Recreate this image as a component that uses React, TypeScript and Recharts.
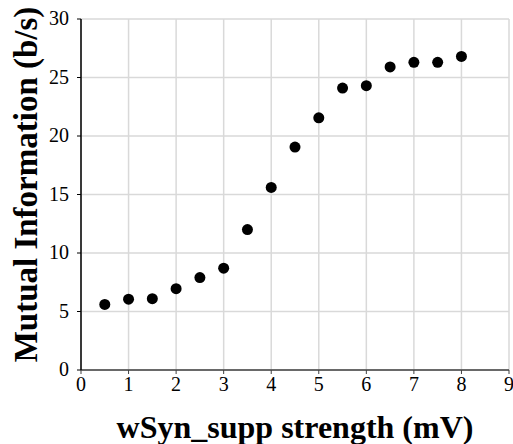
import React from "react";
import { ScatterChart, Scatter, XAxis, YAxis, CartesianGrid, Label } from "recharts";

const strengths = [0.5, 1, 1.5, 2, 2.5, 3, 3.5, 4, 4.5, 5, 5.5, 6, 6.5, 7, 7.5, 8];
const mutualInfo = [5.6, 6.05, 6.1, 6.95, 7.9, 8.7, 12.0, 15.6, 19.05, 21.55, 24.1, 24.3, 25.9, 26.3, 26.3, 26.8];
const xTicks = [0, 1, 2, 3, 4, 5, 6, 7, 8, 9];
const yTicks = [0, 5, 10, 15, 20, 25, 30];
const xTitle = "wSyn_supp strength (mV)";
const yTitle = "Mutual Information (b/s)";

const data = strengths.map((x, i) => ({ x, y: mutualInfo[i] }));

const FONT = "'Liberation Serif', 'Times New Roman', serif";
const tickStyle = { fontFamily: FONT, fontSize: 20, fill: "#000" };
const titleStyle = { fontFamily: FONT, fontSize: 32, fontWeight: 700, fill: "#000" } as const;

const Dot = (props: any) => <circle cx={props.cx} cy={props.cy} r={5.5} fill="#000" />;

const renderXTick = (props: any) => (
  <text x={props.x} y={props.y} dy="0.71em" textAnchor="middle" style={tickStyle}>
    {props.payload.value}
  </text>
);

const renderYTick = (props: any) => (
  <text x={props.x} y={props.y} dy="0.3em" textAnchor="end" style={tickStyle}>
    {props.payload.value}
  </text>
);

export default function App() {
  return (
    <div style={{ position: "absolute", left: 0, top: 0, width: 513, height: 444, background: "#fff", fontFamily: FONT }}>
      <ScatterChart width={513} height={444} margin={{ top: 19, right: 4, bottom: 0, left: 0 }}>
        <CartesianGrid stroke="#d9d9d9" strokeWidth={1.5} />
        <XAxis
          type="number"
          dataKey="x"
          domain={[0, 9]}
          ticks={xTicks}
          interval={0}
          height={74}
          tickSize={4}
          tickMargin={3}
          stroke="#404040"
          axisLine={{ stroke: "#404040", strokeWidth: 1.5 }}
          tickLine={{ stroke: "#404040" }}
          tick={renderXTick}
        >
          <Label
            content={(p: any) => {
              const vb = p.viewBox;
              return (
                <text x={vb.x + vb.width / 2} y={vb.y + 68} textAnchor="middle" style={titleStyle}>
                  {xTitle}
                </text>
              );
            }}
          />
        </XAxis>
        <YAxis
          type="number"
          dataKey="y"
          domain={[0, 30]}
          ticks={yTicks}
          interval={0}
          width={81}
          tickSize={4}
          tickMargin={8}
          stroke="#000"
          axisLine={{ stroke: "#000", strokeWidth: 1.5 }}
          tickLine={{ stroke: "#000" }}
          tick={renderYTick}
        >
          <Label
            content={(p: any) => {
              const vb = p.viewBox;
              const cx = vb.x + 37;
              const cy = vb.y + vb.height / 2 - 10;
              return (
                <text
                  x={cx}
                  y={cy}
                  transform={`rotate(-90, ${cx}, ${cy})`}
                  textAnchor="middle"
                  style={{ ...titleStyle, fontSize: 33 }}
                >
                  {yTitle}
                </text>
              );
            }}
          />
        </YAxis>
        <Scatter data={data} fill="#000" shape={Dot} isAnimationActive={false} />
      </ScatterChart>
    </div>
  );
}
